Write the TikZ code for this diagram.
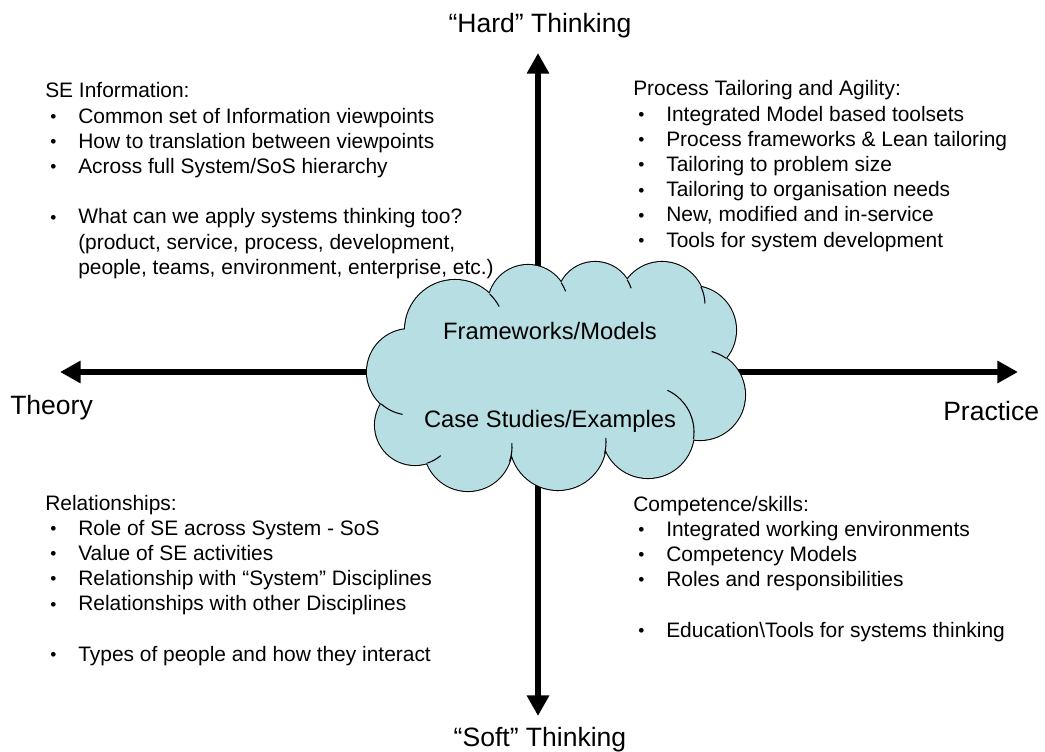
\documentclass[tikz,border=0pt]{standalone}
\usepackage{fontspec}
\setmainfont{Liberation Sans}
\usetikzlibrary{arrows.meta}
\definecolor{cloudfill}{RGB}{183,222,226}
\newcommand{\bl}{\makebox[24.75pt][l]{\hspace{3.75pt}\raisebox{0.5pt}{\fontsize{13}{13}\selectfont •}}}
\newcommand{\ind}{\hspace{24.75pt}}
\begin{document}
\begin{tikzpicture}[x=0.75pt,y=-0.75pt,
  axis/.style={line width=4.5pt,{Triangle[length=15.5pt,width=16pt]}-{Triangle[length=15.5pt,width=16pt]}},
  block/.style={anchor=base west,inner sep=0pt,font=\fontsize{15.7}{18.9}\selectfont},
  axislabel/.style={inner sep=0pt,font=\fontsize{19.9}{24}\selectfont},
  cloudtext/.style={inner sep=0pt,anchor=base,font=\fontsize{17.8}{21}\selectfont},
  inner/.style={line width=0.8pt}]
\useasboundingbox (0,0) rectangle (1045,752);
% axes
\coordinate (N) at (538,53);
\coordinate (S) at (538,716);
\coordinate (W) at (60,372);
\coordinate (E) at (1018,372);
\draw[axis] (W) -- (E);
\draw[axis] (N) -- (S);
% cloud
\draw[line width=1.6pt]
  (455,330) circle[radius=50] (528,305) circle[radius=40] (595,300) circle[radius=38]
  (662,305) circle[radius=43] (692,330) circle[radius=44] (700,395) circle[radius=45]
  (648,432) circle[radius=46] (558,442) circle[radius=48] (468,447) circle[radius=44]
  (415,425) circle[radius=40] (410,372) circle[radius=43];
\fill[cloudfill]
  (455,330) circle[radius=50] (528,305) circle[radius=40] (595,300) circle[radius=38]
  (662,305) circle[radius=43] (692,330) circle[radius=44] (700,395) circle[radius=45]
  (648,432) circle[radius=46] (558,442) circle[radius=48] (468,447) circle[radius=44]
  (415,425) circle[radius=40] (410,372) circle[radius=43]
  (556,375) ellipse[x radius=140,y radius=75];
% inner arcs of the cloud
\draw[inner] (455,330) ++(-46:50) arc[start angle=-46,end angle=-28,radius=50];
\draw[inner] (528,305) ++(-34:40) arc[start angle=-34,end angle=-20,radius=40];
\draw[inner] (595,300) ++(-32:38) arc[start angle=-32,end angle=-18,radius=38];
\draw[inner] (662,305) ++(-25:43) arc[start angle=-25,end angle=-2,radius=43];
\draw[inner] (700,395) ++(-55:45) arc[start angle=-55,end angle=-75,radius=45];
\draw[inner] (648,432) ++(9:46) arc[start angle=9,end angle=-65,radius=46];
\draw[inner] (558,442) ++(14:48) arc[start angle=14,end angle=-5,radius=48];
\draw[inner] (468,447) ++(19:44) arc[start angle=19,end angle=-5,radius=44];
\draw[inner] (415,425) ++(72:40) arc[start angle=72,end angle=50,radius=40];
\draw[inner] (410,372) ++(132:43) arc[start angle=132,end angle=100,radius=43];
\node[cloudtext] (fm) at (550,339) {Frameworks/Models};
\node[cloudtext] (cs) at (550,427) {Case Studies/Examples};
% axis labels
\node[axislabel,anchor=base] (hard) at (540,33) {“Hard” Thinking};
\node[axislabel,anchor=base] (soft) at (540,746) {“Soft” Thinking};
\node[axislabel,anchor=base west] (theory) at (10,414) {Theory};
\node[axislabel,anchor=base west] (practice) at (943,420) {Practice};
% text blocks
\node[block] (tl) at (45,98) {\begin{tabular}[t]{@{}l@{}}
SE Information:\\
\bl Common set of Information viewpoints\\
\bl How to translation between viewpoints\\
\bl Across full System/SoS hierarchy\\
\\
\bl What can we apply systems thinking too?\\
\ind (product, service, process, development,\\
\ind people, teams, environment, enterprise, etc.)
\end{tabular}};
\node[block] (tr) at (633,96) {\begin{tabular}[t]{@{}l@{}}
Process Tailoring and Agility:\\
\bl Integrated Model based toolsets\\
\bl Process frameworks \& Lean tailoring\\
\bl Tailoring to problem size\\
\bl Tailoring to organisation needs\\
\bl New, modified and in-service\\
\bl Tools for system development
\end{tabular}};
\node[block] (bl) at (45,510) {\begin{tabular}[t]{@{}l@{}}
Relationships:\\
\bl Role of SE across System - SoS\\
\bl Value of SE activities\\
\bl Relationship with “System” Disciplines\\
\bl Relationships with other Disciplines\\
\\
\bl Types of people and how they interact
\end{tabular}};
\node[block] (br) at (633,511) {\begin{tabular}[t]{@{}l@{}}
Competence/skills:\\
\bl Integrated working environments\\
\bl Competency Models\\
\bl Roles and responsibilities\\
\\
\bl Education\textbackslash Tools for systems thinking
\end{tabular}};
\end{tikzpicture}
\end{document}
